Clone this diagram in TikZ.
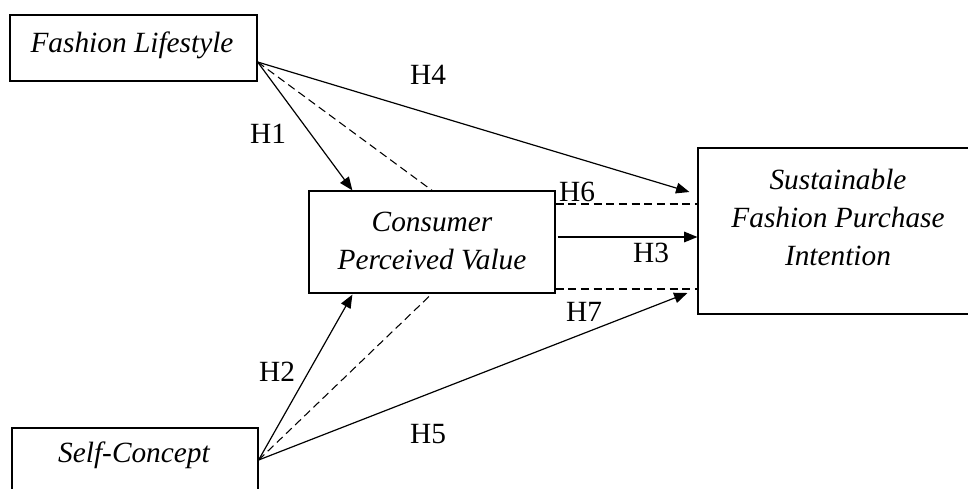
\documentclass[tikz,border=0pt]{standalone}
\usepackage{fontspec}
\setmainfont{Liberation Serif}
\usetikzlibrary{arrows.meta, calc, positioning}
\tikzset{
  box/.style = {draw, line width=0.9pt, inner sep=0pt},
  boxtext/.style = {align=center, font=\fontsize{22}{28.5}\selectfont\itshape},
  arr/.style = {line width=0.9pt, -{Triangle[length=10pt, width=8pt]}},
  medline/.style = {line width=0.8pt, dash pattern=on 6pt off 3.5pt},
  hyp/.style = {font=\fontsize{22}{24}\selectfont}
}

\begin{document}
\begin{tikzpicture}[x=0.75pt, y=-0.75pt]

    \useasboundingbox (0,0) rectangle (968,489);

    % Constructs
    \node[box, minimum width=185.25pt, minimum height=49.5pt] (fl) at (133.5,48) {};
    \node[boxtext] (fltxt) at (132,45) {Fashion Lifestyle};
    \node[box, minimum width=184.5pt, minimum height=76.5pt] (cpv) at (432,242) {};
    \node[boxtext] (cpvtxt) at (432,241) {Consumer\\Perceived Value};
    \node[box, minimum width=184.5pt, minimum height=49.5pt] (sc) at (135,461) {};
    \node[boxtext] (sctxt) at (134,455) {Self-Concept};
    \node[box, minimum width=210pt, minimum height=124.5pt] (sfpi) at (838,231) {};
    \node[boxtext] (sfpitxt) at (838,217) {Sustainable\\Fashion Purchase\\Intention};

    % Ends of the paths
    \coordinate (flout) at ($(fl.east)+(0,14)$);
    \coordinate (scout) at ($(sc.east)+(0,-1)$);
    \coordinate (h1end) at ($(cpv.north west)+(44,0)$);
    \coordinate (h2end) at ($(cpv.south west)+(44,1)$);
    \coordinate (h4end) at ($(sfpi.west)+(-8,-39)$);
    \coordinate (h5end) at ($(sfpi.west)+(-10,62)$);
    \coordinate (h6start) at ($(cpv.east)+(0,-38)$);
    \coordinate (h3start) at ($(cpv.east)+(2,-5)$);
    \coordinate (h7start) at ($(cpv.east)+(0,47)$);

    % Direct paths
    \draw[arr] (flout) -- (h1end);
    \draw[arr] (flout) -- (h4end);
    \draw[arr] (scout) -- (h2end);
    \draw[arr] (scout) -- (h5end);
    \draw[arr] (h3start) -- (h3start -| sfpi.west);

    % Mediated paths
    \draw[medline] (flout) -- (cpv.north);
    \draw[medline] (scout) -- (cpv.south);
    \draw[medline] (h6start) -- (h6start -| sfpi.west);
    \draw[medline] (h7start) -- (h7start -| sfpi.west);

    % Hypotheses
    \node[hyp] (h1) at (268,134) {H1};
    \node[hyp] (h2) at (277,372) {H2};
    \node[hyp] (h3) at (651,253) {H3};
    \node[hyp] (h4) at (428,75) {H4};
    \node[hyp] (h5) at (428,434) {H5};
    \node[hyp] (h6) at (577,192) {H6};
    \node[hyp] (h7) at (584,312) {H7};

\end{tikzpicture}
\end{document}
